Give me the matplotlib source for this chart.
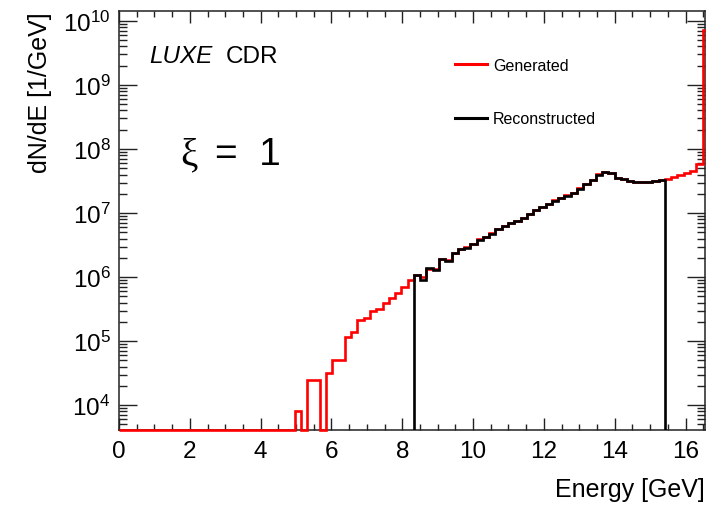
import numpy as np
import matplotlib
matplotlib.use('Agg')
import matplotlib.pyplot as plt
from matplotlib.ticker import LogLocator, MultipleLocator, LogFormatterMathtext, NullFormatter

plt.rcParams['font.family'] = ['Liberation Sans', 'DejaVu Sans']
plt.rcParams['mathtext.fontset'] = 'custom'
plt.rcParams['mathtext.rm'] = 'Liberation Sans'

# binning of the energy histograms (GeV)
bin_width = 0.1772
n_bins = 94
edges = np.arange(n_bins + 1) * bin_width

# dN/dE per bin, 0 = empty bin
gen_counts = [0] * 28 + [
    8.1e3, 0, 2.45e4, 2.45e4, 0, 3.2e4, 5.0e4, 5.0e4, 1.17e5, 1.38e5,
    2.14e5, 2.29e5, 2.95e5, 3.16e5, 3.89e5, 4.68e5, 5.75e5, 7.08e5, 8.9e5, 1.07e6,
    1.0e6, 1.32e6, 1.35e6, 1.95e6, 1.86e6, 2.40e6, 2.75e6, 2.95e6, 3.31e6, 3.90e6,
    4.17e6, 4.80e6, 5.62e6, 6.31e6, 7.10e6, 7.41e6, 8.32e6, 9.77e6, 1.13e7, 1.23e7,
    1.38e7, 1.58e7, 1.70e7, 1.90e7, 2.09e7, 2.46e7, 2.82e7, 3.24e7, 4.05e7, 4.37e7,
    4.27e7, 3.55e7, 3.39e7, 3.16e7, 3.09e7, 3.02e7, 3.02e7, 3.16e7, 3.27e7, 3.39e7,
    3.72e7, 3.98e7, 4.27e7, 4.57e7, 5.75e7, 7.2e9,
]
rec_counts = [0] * 47 + [
    1.07e6, 9.1e5, 1.41e6, 1.29e6, 1.95e6, 1.78e6, 2.34e6, 2.75e6, 2.88e6, 3.31e6,
    3.80e6, 4.17e6, 4.68e6, 5.62e6, 6.31e6, 6.92e6, 7.41e6, 8.32e6, 9.77e6, 1.10e7,
    1.23e7, 1.38e7, 1.55e7, 1.70e7, 1.86e7, 2.09e7, 2.40e7, 2.82e7, 3.24e7, 3.98e7,
    4.37e7, 4.17e7, 3.55e7, 3.39e7, 3.16e7, 3.09e7, 3.02e7, 3.02e7, 3.16e7, 3.27e7,
] + [0] * 7

x_max = 16.55
y_min, y_max = 4.1e3, 1.43e10

fig = plt.figure(figsize=(7.14, 5.06), dpi=100)
ax = fig.add_axes([0.1667, 0.1482, 0.8207, 0.8281])

gen = np.array(gen_counts, dtype=float)
rec = np.array(rec_counts, dtype=float)

# ROOT draws empty bins on the bottom of a log axis;
# last bin is cut at the frame so the line can run over the bottom spine
ax.stairs(np.where(gen > 0, gen, y_min), np.minimum(edges, x_max), baseline=None,
          color='#ff0000', lw=1.9, zorder=3, clip_on=False, label='Generated')

nz = np.nonzero(rec)[0]
lo, hi = nz[0], nz[-1] + 1
ax.stairs(rec[lo:hi], edges[lo:hi + 1], baseline=y_min,
          color='black', lw=1.9, zorder=4, label='Reconstructed')

ax.set_yscale('log')
ax.set_xlim(0, x_max)
ax.set_ylim(y_min, y_max)

ax.xaxis.set_major_locator(MultipleLocator(2))
ax.xaxis.set_minor_locator(MultipleLocator(0.5))
ax.yaxis.set_major_locator(LogLocator(base=10, numticks=20))
ax.yaxis.set_minor_locator(LogLocator(base=10, subs=np.arange(2, 10), numticks=20))
ax.yaxis.set_major_formatter(LogFormatterMathtext())
ax.yaxis.set_minor_formatter(NullFormatter())

ax.tick_params(which='both', direction='in', top=True, right=True,
               labelsize=17.5, color='#222222', width=1.0)
ax.tick_params(axis='x', which='major', length=8.6, pad=7)
ax.tick_params(axis='x', which='minor', length=4.3)
ax.tick_params(axis='y', which='major', length=13, pad=6)
ax.tick_params(axis='y', which='minor', length=5.8)
for s in ax.spines.values():
    s.set_linewidth(1.1)
    s.set_color('#222222')

ax.set_xlabel('Energy [GeV]', fontsize=18, loc='right', labelpad=11)
ax.set_ylabel('dN/dE [1/GeV]', fontsize=18, loc='top', labelpad=8)

ax.text(0.0512, 0.878, 'LUXE', fontsize=17.5, style='italic', transform=ax.transAxes)
ax.text(0.1826, 0.878, 'CDR', fontsize=17.5, transform=ax.transAxes)
ax.text(0.104, 0.635, 'ξ', fontsize=28, family=['Liberation Serif', 'DejaVu Serif'],
        transform=ax.transAxes)
ax.text(0.163, 0.635, '=  1', fontsize=28, transform=ax.transAxes)

leg = ax.legend(loc='upper left', bbox_to_anchor=(0.573, 0.888), frameon=False,
                fontsize=11.5, borderpad=0, borderaxespad=0, handlelength=2.0,
                handletextpad=0.4, labelspacing=2.4)
for line in leg.get_lines():
    line.set_linewidth(2.2)

fig.savefig('out.png', dpi=100)
